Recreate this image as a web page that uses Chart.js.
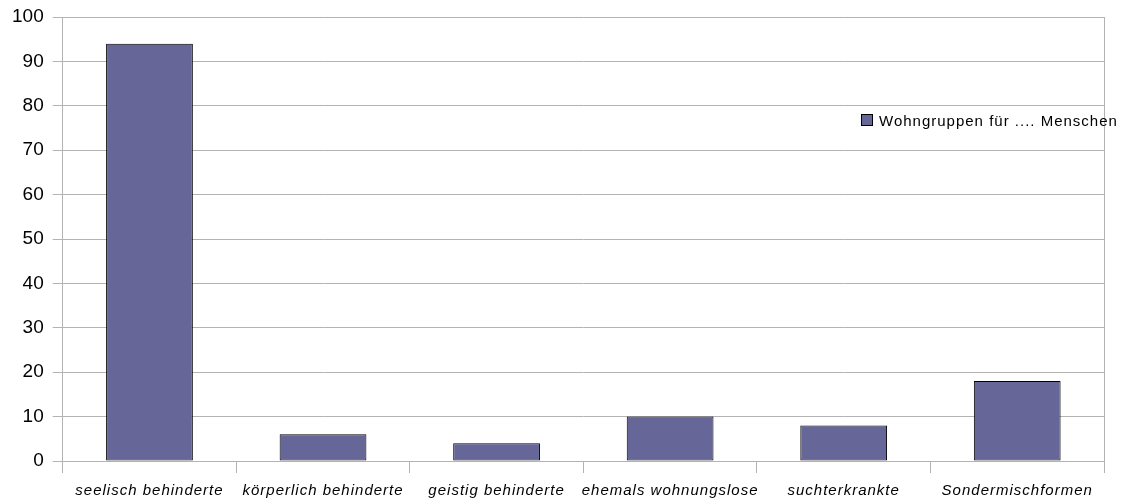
<!DOCTYPE html>
<html>
<head>
<meta charset="UTF-8">
<title>Wohngruppen</title>
<script src="https://cdn.jsdelivr.net/npm/chart.js@4.4.1/dist/chart.umd.min.js"></script>
<style>
	body { margin: 0; background: #fff; }
	#wrap { position: relative; width: 1125px; height: 500px; }
	#legend {
		position: absolute; left: 861px; top: 111px; height: 18px;
		display: flex; align-items: center;
		font: 15px "Liberation Sans", Arial, sans-serif; letter-spacing: 1px; color: #000;
		white-space: nowrap;
	}
	#legend span.box {
		display: inline-block; width: 10px; height: 10px; margin-right: 6px;
		background: #666699; border: 1px solid #000;
	}
</style>
</head>
<body>
	<div id="wrap">
		<canvas id="myChart" width="1125" height="500"></canvas>
		<div id="legend"></div>
	</div>

	<script>
		// Kategorien und Werte
		let categories = ['seelisch behinderte', 'körperlich behinderte', 'geistig behinderte', 'ehemals wohnungslose', 'suchterkrankte', 'Sondermischformen'];
		let values = [94, 6, 4, 10, 8, 18];
		let seriesLabel = 'Wohngruppen für .... Menschen';
		let yMin = 0, yMax = 100, yStep = 10;

		let gridColor = '#b3b3b3';

		// rechte Begrenzungslinie der Zeichenfläche
		const rightBorder = {
			id: 'rightBorder',
			afterDraw(chart) {
				const a = chart.chartArea, ctx = chart.ctx;
				ctx.save();
				ctx.strokeStyle = gridColor;
				ctx.lineWidth = 1;
				ctx.beginPath();
				ctx.moveTo(Math.round(a.right) + 0.5, a.top);
				ctx.lineTo(Math.round(a.right) + 0.5, a.bottom);
				ctx.stroke();
				ctx.restore();
			}
		};

		// x-Beschriftung mit Zeichenabstand
		const spacedLabels = {
			id: 'spacedLabels',
			afterLayout(chart) {
				const sc = chart.scales.x;
				if (sc._patched) return;
				const orig = sc.drawLabels;
				sc.drawLabels = function(area) {
					const ctx = this.ctx;
					ctx.save();
					ctx.letterSpacing = '1px';
					orig.call(this, area);
					ctx.restore();
				};
				sc._patched = true;
			}
		};

		new Chart('myChart', {
			type: 'bar',
			data: {
				labels: categories,
				datasets: [{
					label: seriesLabel,
					data: values,
					backgroundColor: '#666699',
					borderColor: '#000000',
					borderWidth: 1,
					borderSkipped: false,
					barPercentage: 0.5,
					categoryPercentage: 1.0
				}]
			},
			options: {
				responsive: false,
				animation: false,
				layout: { padding: { top: 17, left: 3, right: 21, bottom: -9 } },
				plugins: {
					legend: { display: false },
					tooltip: { enabled: false }
				},
				scales: {
					x: {
						offset: true,
						grid: { offset: true, drawOnChartArea: false, drawTicks: true, tickLength: 12, color: gridColor },
						border: { color: gridColor },
						ticks: {
							padding: 9,
							color: '#000',
							maxRotation: 0,
							autoSkip: false,
							font: { family: '"Liberation Sans", Arial, sans-serif', size: 15, style: 'italic' }
						}
					},
					y: {
						min: yMin,
						max: yMax,
						afterFit: function(s) { s.paddingTop = 0; },
						grid: { color: gridColor, tickLength: 10 },
						border: { color: gridColor },
						ticks: {
							stepSize: yStep,
							padding: 9,
							color: '#000',
							font: { family: '"Liberation Sans", Arial, sans-serif', size: 19 }
						}
					}
				}
			},
			plugins: [rightBorder, spacedLabels]
		});

		document.getElementById('legend').innerHTML = '<span class="box"></span>' + seriesLabel;
	</script>
</body>
</html>
